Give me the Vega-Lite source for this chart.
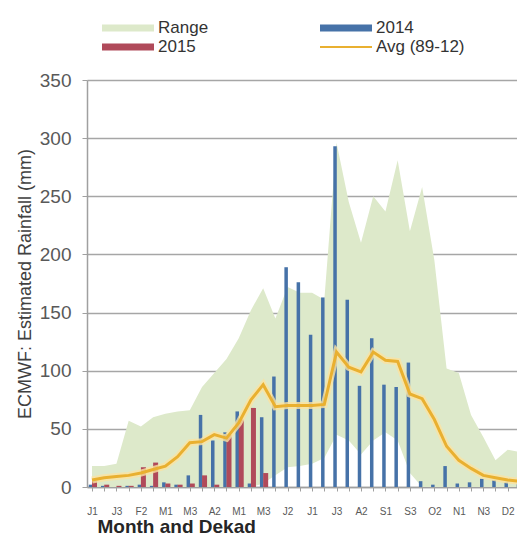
{
  "$schema": "https://vega.github.io/schema/vega-lite/v6.json",
  "autosize": {"type": "none"},
  "padding": {"left": 87, "top": 80, "right": 0, "bottom": 49},
  "width": 430,
  "height": 407,
  "background": "white",
  "config": {
    "font": "Liberation Sans",
    "view": {"stroke": null},
    "legend": {
      "orient": "none", "padding": 0, "title": null,
      "labelFontSize": 17, "labelColor": "#333333", "labelOffset": 4, "labelLimit": 300,
      "symbolSize": 2704, "symbolStrokeWidth": 0, "symbolOpacity": 1,
      "symbolType": "M-1,-0.13L1,-0.13L1,0.13L-1,0.13Z"
    }
  },
  "data": {"values": [
    {"i": 0, "lab": "J1", "max": 18, "min": 0, "y2014": 2, "y2015": 5, "avg": 6},
    {"i": 1, "lab": "J2", "max": 18, "min": 0, "y2014": 1, "y2015": 2, "avg": 8},
    {"i": 2, "lab": "J3", "max": 20, "min": 0, "y2014": 0, "y2015": 1, "avg": 9},
    {"i": 3, "lab": "F1", "max": 57, "min": 0, "y2014": 1, "y2015": 1, "avg": 10},
    {"i": 4, "lab": "F2", "max": 52, "min": 0, "y2014": 2, "y2015": 17, "avg": 12},
    {"i": 5, "lab": "F3", "max": 60, "min": 0, "y2014": 1, "y2015": 21, "avg": 15},
    {"i": 6, "lab": "M1", "max": 63, "min": 0, "y2014": 4, "y2015": 3, "avg": 18},
    {"i": 7, "lab": "M2", "max": 65, "min": 0, "y2014": 2, "y2015": 2, "avg": 26},
    {"i": 8, "lab": "M3", "max": 66, "min": 0, "y2014": 10, "y2015": 3, "avg": 38},
    {"i": 9, "lab": "A1", "max": 86, "min": 0, "y2014": 62, "y2015": 10, "avg": 39},
    {"i": 10, "lab": "A2", "max": 98, "min": 0, "y2014": 40, "y2015": 2, "avg": 45},
    {"i": 11, "lab": "A3", "max": 110, "min": 0, "y2014": 47, "y2015": 45, "avg": 42},
    {"i": 12, "lab": "M1", "max": 128, "min": 0, "y2014": 65, "y2015": 58, "avg": 55},
    {"i": 13, "lab": "M2", "max": 152, "min": 0, "y2014": 3, "y2015": 68, "avg": 75},
    {"i": 14, "lab": "M3", "max": 171, "min": 3, "y2014": 60, "y2015": 12, "avg": 88},
    {"i": 15, "lab": "J1", "max": 145, "min": 10, "y2014": 95, "y2015": null, "avg": 69},
    {"i": 16, "lab": "J2", "max": 172, "min": 17, "y2014": 189, "y2015": null, "avg": 70},
    {"i": 17, "lab": "J3", "max": 167, "min": 18, "y2014": 176, "y2015": null, "avg": 70},
    {"i": 18, "lab": "J1", "max": 167, "min": 20, "y2014": 131, "y2015": null, "avg": 70},
    {"i": 19, "lab": "J2", "max": 161, "min": 25, "y2014": 163, "y2015": null, "avg": 71},
    {"i": 20, "lab": "J3", "max": 296, "min": 45, "y2014": 293, "y2015": null, "avg": 116},
    {"i": 21, "lab": "A1", "max": 245, "min": 40, "y2014": 161, "y2015": null, "avg": 103},
    {"i": 22, "lab": "A2", "max": 210, "min": 28, "y2014": 87, "y2015": null, "avg": 99},
    {"i": 23, "lab": "A3", "max": 250, "min": 40, "y2014": 128, "y2015": null, "avg": 116},
    {"i": 24, "lab": "S1", "max": 237, "min": 47, "y2014": 88, "y2015": null, "avg": 109},
    {"i": 25, "lab": "S2", "max": 281, "min": 40, "y2014": 86, "y2015": null, "avg": 108},
    {"i": 26, "lab": "S3", "max": 220, "min": 12, "y2014": 107, "y2015": null, "avg": 80},
    {"i": 27, "lab": "O1", "max": 258, "min": 0, "y2014": 5, "y2015": null, "avg": 76},
    {"i": 28, "lab": "O2", "max": 195, "min": 0, "y2014": 2, "y2015": null, "avg": 58},
    {"i": 29, "lab": "O3", "max": 102, "min": 0, "y2014": 18, "y2015": null, "avg": 35},
    {"i": 30, "lab": "N1", "max": 98, "min": 0, "y2014": 3, "y2015": null, "avg": 23},
    {"i": 31, "lab": "N2", "max": 62, "min": 0, "y2014": 4, "y2015": null, "avg": 16},
    {"i": 32, "lab": "N3", "max": 43, "min": 0, "y2014": 7, "y2015": null, "avg": 10},
    {"i": 33, "lab": "D1", "max": 23, "min": 0, "y2014": 6, "y2015": null, "avg": 8},
    {"i": 34, "lab": "D2", "max": 32, "min": 0, "y2014": 4, "y2015": null, "avg": 6},
    {"i": 35, "lab": "D3", "max": 30, "min": 0, "y2014": 3, "y2015": null, "avg": 5}
  ]},
  "encoding": {
    "x": {
      "field": "i", "type": "quantitative",
      "scale": {"domain": [0, 34.35], "nice": false, "zero": false},
      "axis": {
        "values": [0,1,2,3,4,5,6,7,8,9,10,11,12,13,14,15,16,17,18,19,20,21,22,23,24,25,26,27,28,29,30,31,32,33,34],
        "labelExpr": "datum.value % 2 ? '' : ['J1','J2','J3','F1','F2','F3','M1','M2','M3','A1','A2','A3','M1','M2','M3','J1','J2','J3','J1','J2','J3','A1','A2','A3','S1','S2','S3','O1','O2','O3','N1','N2','N3','D1','D2','D3'][datum.value]",
        "title": "Month and Dekad",
        "titleFontSize": 19, "titleFontWeight": "bold", "titleColor": "#262626",
        "titleX": 10, "titleY": 39, "titleAlign": "left", "titleBaseline": "middle", "titleAnchor": "start",
        "labelFontSize": 10, "labelColor": "#595959", "labelPadding": 15,
        "labelFlush": false, "labelOverlap": false, "labelBound": false,
        "tickSize": 4, "tickColor": "#a0a0a0", "domainColor": "#a0a0a0", "domainWidth": 1.5,
        "grid": false
      }
    },
    "y": {
      "type": "quantitative",
      "scale": {"domain": [0, 350], "nice": false},
      "title": "ECMWF: Estimated Rainfall (mm)",
      "axis": {
        "values": [0, 50, 100, 150, 200, 250, 300, 350],
        "titleFontSize": 18, "titleFontWeight": "normal", "titleColor": "#404040",
        "titleX": -62, "titleY": 203.5, "titleAngle": -90, "titleAlign": "center", "titleBaseline": "middle",
        "labelFontSize": 19, "labelColor": "#595959", "labelPadding": 11,
        "tickSize": 5, "tickColor": "#a0a0a0", "domainColor": "#a0a0a0", "domainWidth": 1.5,
        "grid": true, "gridColor": "#a6a6a6", "gridWidth": 1.5
      }
    }
  },
  "layer": [
    {
      "mark": {"type": "area", "opacity": 1},
      "encoding": {
        "y": {"field": "max"},
        "y2": {"field": "min"},
        "fill": {
          "datum": "Range",
          "scale": {"domain": ["Range"], "range": ["#dde9ca"]},
          "legend": {"legendX": 15, "legendY": -78, "symbolFillColor": "#dde9ca"}
        }
      }
    },
    {
      "mark": {"type": "bar", "width": 3.5, "xOffset": -1.5},
      "encoding": {
        "y": {"field": "y2014"},
        "color": {
          "datum": "2014",
          "scale": {"domain": ["2014"], "range": ["#4672a8"]},
          "legend": {"legendX": 233, "legendY": -78}
        }
      }
    },
    {
      "mark": {"type": "bar", "width": 5, "xOffset": 2.5, "color": "#b04a5a"},
      "encoding": {
        "y": {"field": "y2015"},
        "opacity": {
          "datum": "2015",
          "scale": {"domain": ["2015"], "range": [1]},
          "legend": {"legendX": 15, "legendY": -59, "symbolFillColor": "#b04a5a"}
        }
      }
    },
    {
      "mark": {"type": "line", "strokeWidth": 7, "color": "#fbe2a0", "opacity": 0.8},
      "encoding": {
        "y": {"field": "avg"}
      }
    },
    {
      "mark": {"type": "line", "strokeWidth": 3},
      "encoding": {
        "y": {"field": "avg"},
        "stroke": {
          "datum": "Avg (89-12)",
          "scale": {"domain": ["Avg (89-12)"], "range": ["#e9b030"]},
          "legend": {
            "legendX": 233, "legendY": -59,
            "symbolType": "M-1,-0.04L1,-0.04L1,0.04L-1,0.04Z",
            "symbolFillColor": "#e9b030"
          }
        }
      }
    }
  ]
}
